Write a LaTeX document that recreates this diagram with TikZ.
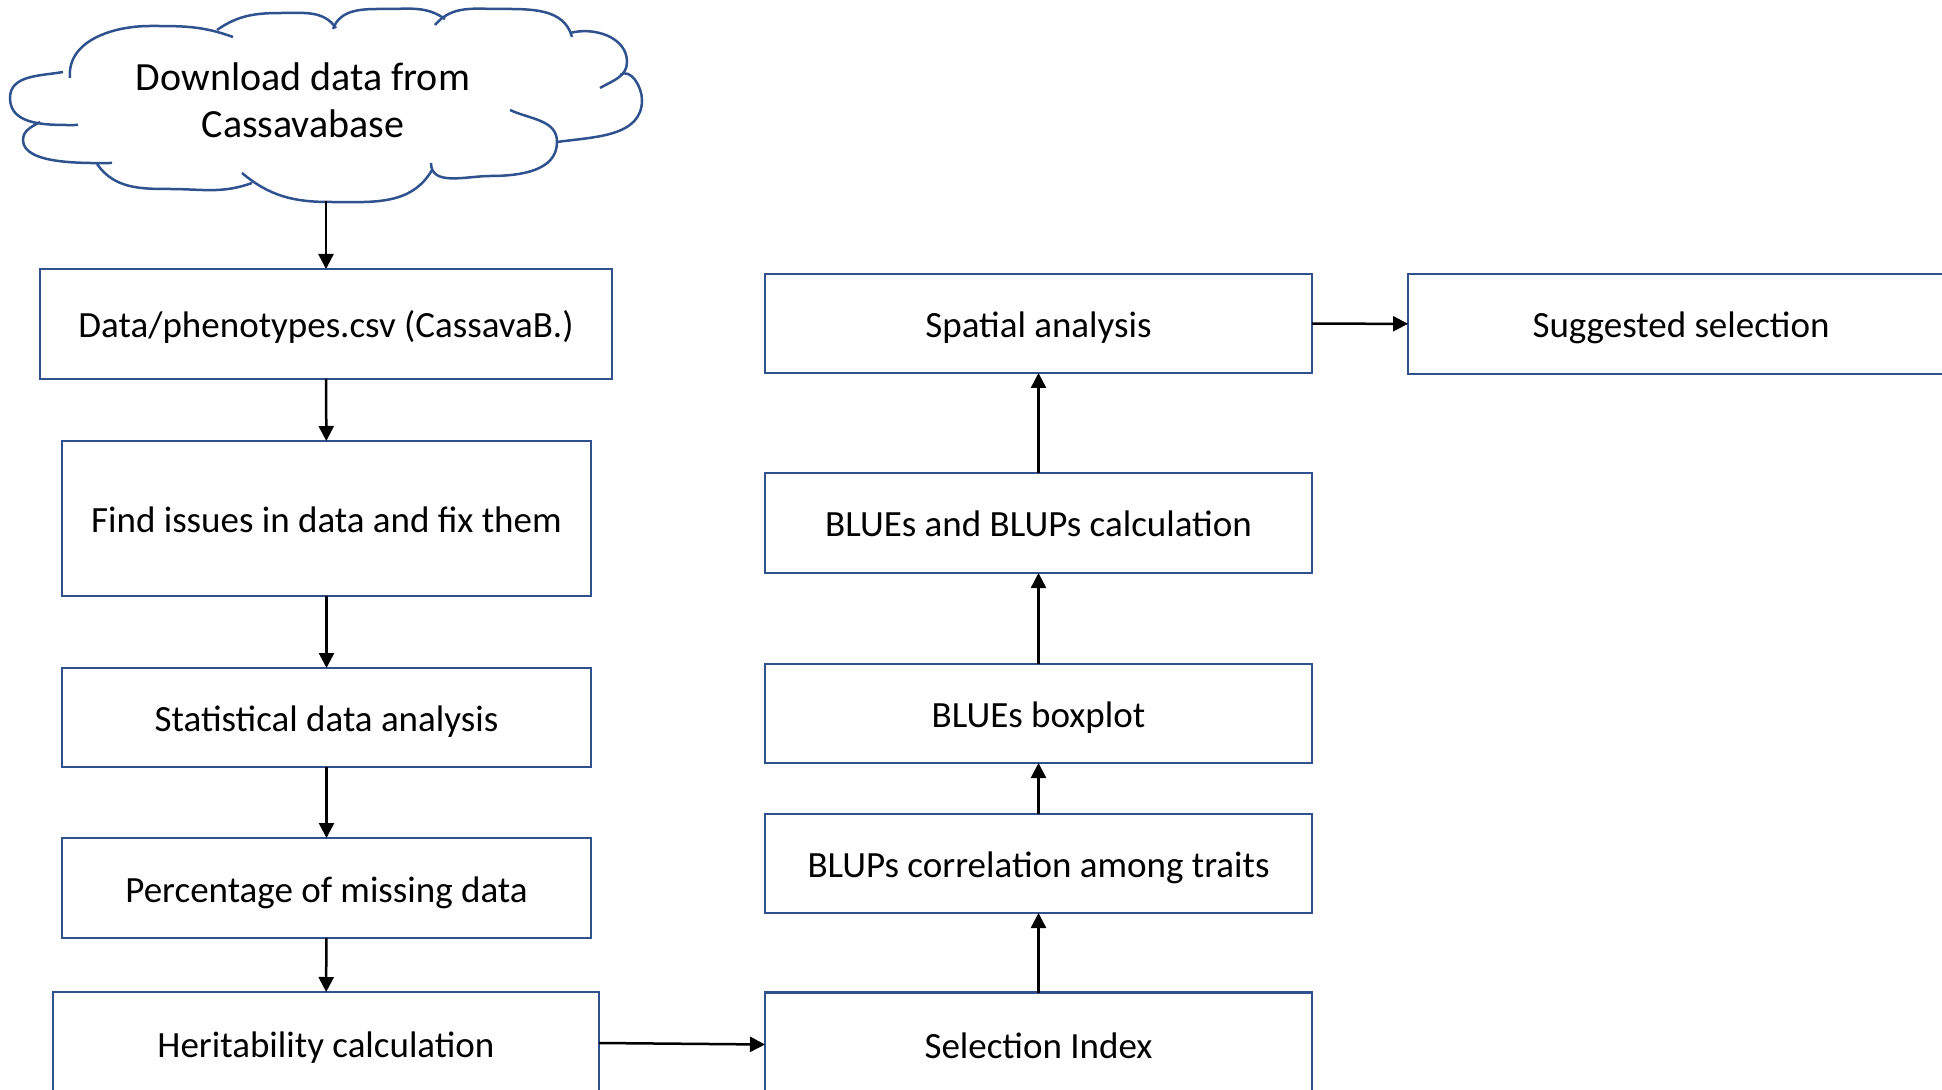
\documentclass[tikz,border=0pt]{standalone}
\usepackage{fontspec}
\setmainfont{Carlito}
\usetikzlibrary{arrows.meta}
\definecolor{boxblue}{RGB}{47,82,143}

\begin{document}
\begin{tikzpicture}[x=0.5pt,y=0.5pt,
  box/.style={draw=boxblue, line width=1.25pt, rectangle, fill=white,
    inner sep=0pt, outer sep=0pt, align=center,
    font=\fontsize{18.5}{23}\selectfont, text height=16pt, text depth=2pt},
  leftbox/.style={box, minimum width=264.5pt},
  rightbox/.style={box, minimum width=273.5pt},
  puff/.style={draw=boxblue, line width=1.25pt},
  flow/.style={draw=black, line width=1.25pt, -{Triangle[length=7.5pt,width=7.5pt]}}]

\useasboundingbox (0,0) rectangle (1942,-1090);
\clip (0,0) rectangle (1942,-1090);

% cloud outline, one elliptic puff at a time
\draw[puff] (78,-125) to[out=180,in=-90] (10,-98) to[out=90,in=190] (63,-72);
\draw[puff] (70,-78) to[out=95,in=180] (150,-26) to[out=0,in=160] (233,-37);
\draw[puff] (217,-30) to[out=35,in=180] (283,-13) to[out=0,in=125] (336,-28);
\draw[puff] (333,-29) to[out=70,in=180] (387,-9) to[out=0,in=145] (445,-19);
\draw[puff] (435,-25) to[out=50,in=180] (500,-9) to[out=0,in=105] (572,-37);
\draw[puff] (570,-33) to[out=15,in=90] (627,-62) to[out=-90,in=30] (600,-88);
\draw[puff] (620,-75) to[out=35,in=90] (642,-100) to[out=-90,in=8] (557,-142);
\draw[puff] (510,-110) to[out=-25,in=90] (557,-142) to[out=-90,in=0] (490,-176)
  to[out=180,in=-90] (431,-163);
\draw[puff] (432,-170) to[out=-120,in=0] (330,-202) to[out=180,in=-40] (242,-173);
\draw[puff] (97,-164) to[out=-55,in=180] (170,-189) to[out=0,in=-160] (252,-183);
\draw[puff] (40,-122) to[out=-150,in=90] (23,-140)
  to[out=-90,in=180,looseness=0.7] (112,-163);

\node[align=center, font=\fontsize{20}{23.5}\selectfont] (cloud) at (303,-100)
  {Download data from\\Cassavabase};
\coordinate (cloudbottom) at (326,-201);

% left column
\node[box, minimum width=286pt, minimum height=55pt] (csv) at (326,-324)
  {Data/phenotypes.csv (CassavaB.)};
\node[leftbox, minimum height=77.5pt] (fix) at (326.5,-518.5)
  {Find issues in data and fix them};
\node[leftbox, minimum height=49.5pt] (stat) at (326.5,-717.5)
  {Statistical data analysis};
\node[leftbox, minimum height=50pt] (miss) at (326.5,-888)
  {Percentage of missing data};
\node[box, minimum width=273pt, minimum height=51pt] (herit) at (326,-1043)
  {Heritability calculation};

% right column
\node[rightbox, minimum height=52pt] (index) at (1038.5,-1044.5)
  {Selection Index};
\node[rightbox, minimum height=49.5pt] (corr) at (1038.5,-863.5)
  {BLUPs correlation among traits};
\node[rightbox, minimum height=49.5pt] (boxplot) at (1038.5,-713.5)
  {BLUEs boxplot};
\node[rightbox, minimum height=50pt] (blups) at (1038.5,-523)
  {BLUEs and BLUPs calculation};
\node[rightbox, minimum height=49.5pt] (spatial) at (1038.5,-323.5)
  {Spatial analysis};
\node[box, minimum width=273pt, minimum height=50pt] (suggest) at (1681,-324)
  {Suggested selection};

% connectors
\draw[flow] (cloudbottom) -- (csv.north);
\draw[flow] (csv) -- (fix);
\draw[flow] (fix) -- (stat);
\draw[flow] (stat) -- (miss);
\draw[flow] (miss) -- (herit);
\draw[flow] (herit.east) -- (index.west);
\draw[flow] (index) -- (corr);
\draw[flow] (corr) -- (boxplot);
\draw[flow] (boxplot) -- (blups);
\draw[flow] (blups) -- (spatial);
\draw[flow] (spatial) -- (suggest);
\end{tikzpicture}
\end{document}
